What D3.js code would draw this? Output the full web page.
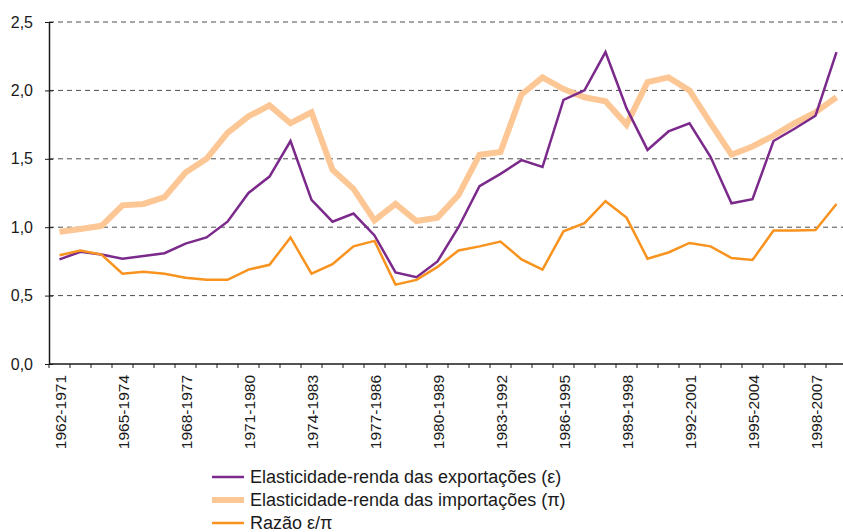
<!DOCTYPE html>
<html>
<head>
<meta charset="utf-8">
<script src="https://cdn.jsdelivr.net/npm/d3@7"></script>
<style>
  body { margin: 0; background: #fff; }
  svg { display: block; font-family: "Liberation Sans", Arial, sans-serif; }
</style>
</head>
<body>
<div id="chart"></div>
<script>
const periodos = [
  "1962-1971", "1963-1972", "1964-1973", "1965-1974", "1966-1975", "1967-1976",
  "1968-1977", "1969-1978", "1970-1979", "1971-1980", "1972-1981", "1973-1982",
  "1974-1983", "1975-1984", "1976-1985", "1977-1986", "1978-1987", "1979-1988",
  "1980-1989", "1981-1990", "1982-1991", "1983-1992", "1984-1993", "1985-1994",
  "1986-1995", "1987-1996", "1988-1997", "1989-1998", "1990-1999", "1991-2000",
  "1992-2001", "1993-2002", "1994-2003", "1995-2004", "1996-2005", "1997-2006",
  "1998-2007", "1999-2008"
];

const exportacoes = [
  0.765, 0.82, 0.80, 0.77, 0.79, 0.81, 0.88, 0.925, 1.04, 1.25, 1.37, 1.63,
  1.20, 1.04, 1.10, 0.94, 0.67, 0.635, 0.75, 1.00, 1.30, 1.39, 1.49, 1.44,
  1.93, 2.00, 2.28, 1.87, 1.565, 1.70, 1.76, 1.515, 1.175, 1.205, 1.63, 1.72,
  1.815, 2.28
];

const importacoes = [
  0.967, 0.987, 1.01, 1.16, 1.17, 1.22, 1.40, 1.50, 1.69, 1.81, 1.89, 1.76,
  1.84, 1.42, 1.28, 1.05, 1.17, 1.045, 1.07, 1.235, 1.53, 1.55, 1.97, 2.095,
  2.01, 1.95, 1.92, 1.75, 2.06, 2.095, 2.00, 1.76, 1.53, 1.59, 1.67, 1.76,
  1.84, 1.95
];

const razao = [
  0.795, 0.83, 0.80, 0.66, 0.675, 0.66, 0.63, 0.615, 0.615, 0.69, 0.725, 0.925,
  0.66, 0.73, 0.86, 0.90, 0.58, 0.615, 0.71, 0.83, 0.86, 0.895, 0.765, 0.69,
  0.97, 1.03, 1.19, 1.07, 0.77, 0.815, 0.885, 0.86, 0.775, 0.76, 0.975, 0.975,
  0.98, 1.17
];

const yTicks = [0, 0.5, 1.0, 1.5, 2.0, 2.5];

const series = [
  { name: "Elasticidade-renda das importações (π)", values: importacoes, color: "#fdc795", width: 6 },
  { name: "Elasticidade-renda das exportações (ε)", values: exportacoes, color: "#7b2a8b", width: 2.5 },
  { name: "Razão ε/π", values: razao, color: "#f7931e", width: 2.5 }
];
const legendOrder = [1, 0, 2];

const W = 843, H = 532;
const margin = { top: 22, right: -4, bottom: 168, left: 49 };
const width = W - margin.left - margin.right;
const height = H - margin.top - margin.bottom;

const svg = d3.select("#chart").append("svg")
  .attr("width", W)
  .attr("height", H);

const g = svg.append("g")
  .attr("transform", "translate(" + margin.left + "," + margin.top + ")");

const X = d3.scaleBand().domain(periodos).range([0, width]);
const cx = (d) => X(d) + X.bandwidth() / 2;
const Y = d3.scaleLinear().domain([0, 2.5]).range([height, 0]);

// dashed grid
g.append("g").attr("class", "grid")
  .selectAll("line")
  .data(yTicks.filter((t) => t > 0))
  .join("line")
  .attr("x1", 0)
  .attr("x2", W - margin.left)
  .attr("y1", (d) => Y(d))
  .attr("y2", (d) => Y(d))
  .attr("stroke", "#4d4d4d")
  .attr("stroke-width", 1)
  .attr("stroke-dasharray", "5,4");

// y axis, ticks cross the axis line
const yAxis = g.append("g")
  .call(d3.axisLeft(Y).tickValues(yTicks).tickSize(4).tickSizeOuter(0)
    .tickFormat((d) => d3.format(".1f")(d).replace(".", ",")));
yAxis.select(".domain").attr("stroke", "#1a1a1a").attr("stroke-width", 1.5);
yAxis.selectAll(".tick line").attr("x1", 4).attr("stroke", "#1a1a1a");
yAxis.selectAll(".tick text")
  .attr("x", -16)
  .attr("fill", "#1a1a1a")
  .style("font-size", "16px");

// x axis: ticks on category boundaries
const xg = g.append("g").attr("transform", `translate(0,${height})`);
xg.append("line")
  .attr("x1", 0).attr("x2", W - margin.left)
  .attr("y1", 0).attr("y2", 0)
  .attr("stroke", "#1a1a1a").attr("stroke-width", 1.5);
xg.selectAll("line.tk")
  .data(periodos)
  .join("line")
  .attr("class", "tk")
  .attr("x1", (d) => X(d)).attr("x2", (d) => X(d))
  .attr("y1", 0).attr("y2", 4)
  .attr("stroke", "#1a1a1a");
xg.selectAll("text")
  .data(periodos.filter((d, i) => i % 3 === 0))
  .join("text")
  .attr("transform", (d) => `translate(${cx(d) + 6},11) rotate(-90)`)
  .attr("text-anchor", "end")
  .attr("fill", "#1a1a1a")
  .style("font-size", "15.5px")
  .text((d) => d);

// lines
const line = (vals) => d3.line()
  .x((d, i) => cx(periodos[i]))
  .y((d) => Y(d))(vals);

g.append("g").selectAll("path")
  .data(series)
  .join("path")
  .attr("fill", "none")
  .attr("stroke", (d) => d.color)
  .attr("stroke-width", (d) => d.width)
  .attr("stroke-linejoin", "miter")
  .attr("d", (d) => line(d.values));

// legend
const legend = svg.append("g").attr("transform", "translate(212,477)");
const items = legend.selectAll("g")
  .data(legendOrder.map((i) => series[i]))
  .join("g")
  .attr("transform", (d, i) => `translate(0,${i * 23})`);
items.append("line")
  .attr("x1", 0).attr("x2", 32)
  .attr("stroke", (d) => d.color)
  .attr("stroke-width", (d) => d.width);
items.append("text")
  .attr("x", 38)
  .attr("dy", "0.35em")
  .attr("fill", "#1a1a1a")
  .style("font-size", "18px")
  .text((d) => d.name);
</script>
</body>
</html>
